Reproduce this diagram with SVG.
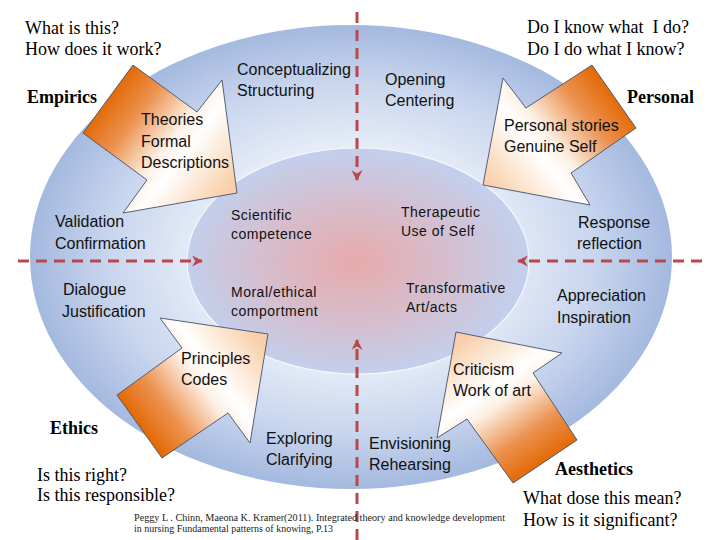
<svg xmlns="http://www.w3.org/2000/svg" width="720" height="540" viewBox="0 0 720 540">
<style>
.s{font-family:"Liberation Sans",Arial,sans-serif;font-size:16px;fill:#111}
.si{font-family:"Liberation Sans",Arial,sans-serif;font-size:14px;letter-spacing:0.5px;fill:#111}
.r{font-family:"Liberation Serif","Times New Roman",serif;font-size:18px;fill:#000;white-space:pre}
.b{font-family:"Liberation Serif","Times New Roman",serif;font-size:18px;font-weight:bold;fill:#000}
.c{font-family:"Liberation Serif","Times New Roman",serif;font-size:10px;fill:#222}
.arrow{stroke:#44506a;stroke-width:0.9}
.dash{fill:none;stroke:#b9474c;stroke-width:3;stroke-dasharray:11 7}
</style>
<defs>
<radialGradient id="gOuter" cx="351" cy="257" r="321" gradientUnits="userSpaceOnUse" gradientTransform="translate(351 257) scale(1 0.7227) translate(-351 -257)">
<stop offset="0.45" stop-color="#e9eef8"/>
<stop offset="0.75" stop-color="#c9d6ee"/>
<stop offset="1" stop-color="#a4b9df"/>
</radialGradient>
<radialGradient id="gInner" cx="354" cy="262" r="171" gradientUnits="userSpaceOnUse" gradientTransform="translate(354 262) scale(1 0.66) translate(-354 -262)">
<stop offset="0" stop-color="#e8aaab"/>
<stop offset="0.5" stop-color="#d7bccb"/>
<stop offset="1" stop-color="#c3cfec"/>
</radialGradient>
<linearGradient id="gA1" gradientUnits="userSpaceOnUse" x1="108" y1="99" x2="228" y2="190">
<stop offset="0" stop-color="#e36a07"/><stop offset="0.22" stop-color="#ec9250"/><stop offset="0.5" stop-color="#fdf1e6"/><stop offset="0.62" stop-color="#ffffff"/><stop offset="1" stop-color="#f9cfa9"/>
</linearGradient>
<linearGradient id="gA2" gradientUnits="userSpaceOnUse" x1="614" y1="96" x2="495" y2="192">
<stop offset="0" stop-color="#e36a07"/><stop offset="0.22" stop-color="#ec9250"/><stop offset="0.5" stop-color="#fdf1e6"/><stop offset="0.62" stop-color="#ffffff"/><stop offset="1" stop-color="#f9cfa9"/>
</linearGradient>
<linearGradient id="gA3" gradientUnits="userSpaceOnUse" x1="140" y1="426" x2="258" y2="338">
<stop offset="0" stop-color="#e36a07"/><stop offset="0.22" stop-color="#ec9250"/><stop offset="0.5" stop-color="#fdf1e6"/><stop offset="0.62" stop-color="#ffffff"/><stop offset="1" stop-color="#f9cfa9"/>
</linearGradient>
<linearGradient id="gA4" gradientUnits="userSpaceOnUse" x1="545" y1="461" x2="462" y2="340">
<stop offset="0" stop-color="#e36a07"/><stop offset="0.22" stop-color="#ec9250"/><stop offset="0.5" stop-color="#fdf1e6"/><stop offset="0.62" stop-color="#ffffff"/><stop offset="1" stop-color="#f9cfa9"/>
</linearGradient>
<marker id="ah" viewBox="0 0 10 10" refX="9" refY="5" markerWidth="11" markerHeight="11" markerUnits="userSpaceOnUse" orient="auto">
<path d="M0,0 L10,5 L0,10 L3,5 z" fill="#b9474c"/>
</marker>
</defs>
<rect width="720" height="540" fill="#ffffff"/>
<g id="rings">
<ellipse cx="351" cy="257" rx="321" ry="232" fill="url(#gOuter)"/>
<ellipse cx="358" cy="261" rx="171" ry="113" fill="url(#gInner)" stroke="#f4f7fc" stroke-width="1.2"/>
</g>
<g id="connectors">
<path class="dash" d="M357,12 L357,180" marker-end="url(#ah)"/>
<path class="dash" d="M357,540 L357,340" marker-end="url(#ah)"/>
<path class="dash" d="M18,261 L202,261" marker-end="url(#ah)"/>
<path class="dash" d="M702,261 L518,261" marker-end="url(#ah)"/>
</g>
<g id="empirics">
<polygon class="arrow" fill="url(#gA1)" points="133,65 197,112 222,80 237,193 123,213 147,180 83,133"/>
<text class="r" x="25" y="34">What is this?</text>
<text class="r" x="25" y="55">How does it work?</text>
<text class="b" x="27" y="103">Empirics</text>
<text class="s" x="141" y="125">Theories</text>
<text class="s" x="141" y="147">Formal</text>
<text class="s" x="141" y="168">Descriptions</text>
<text class="s" x="237" y="75">Conceptualizing</text>
<text class="s" x="237" y="96">Structuring</text>
<text class="s" x="55" y="227">Validation</text>
<text class="s" x="55" y="249">Confirmation</text>
<text class="si" x="231" y="220">Scientific</text>
<text class="si" x="231" y="239">competence</text>
</g>
<g id="personal">
<polygon class="arrow" fill="url(#gA2)" points="592,65 526,108 503,78 483,185 590,205 571,173 636,128"/>
<text class="r" x="527" y="33">Do I know what  I do?</text>
<text class="r" x="527" y="55">Do I do what I know?</text>
<text class="b" x="627" y="103">Personal</text>
<text class="s" x="385" y="85">Opening</text>
<text class="s" x="385" y="106">Centering</text>
<text class="s" x="504" y="131">Personal stories</text>
<text class="s" x="504" y="152">Genuine Self</text>
<text class="s" x="578" y="228">Response</text>
<text class="s" x="577" y="249">reflection</text>
<text class="si" x="401" y="217">Therapeutic</text>
<text class="si" x="401" y="236">Use of Self</text>
</g>
<g id="ethics">
<polygon class="arrow" fill="url(#gA3)" points="117,395 182,348 160,318 268,334 250,443 228,413 162,458"/>
<text class="s" x="63" y="295">Dialogue</text>
<text class="s" x="62" y="317">Justification</text>
<text class="si" x="231" y="297">Moral/ethical</text>
<text class="si" x="231" y="316">comportment</text>
<text class="s" x="181" y="364">Principles</text>
<text class="s" x="181" y="385">Codes</text>
<text class="b" x="50" y="434">Ethics</text>
<text class="s" x="266" y="444">Exploring</text>
<text class="s" x="266" y="465">Clarifying</text>
<text class="r" x="37" y="481">Is this right?</text>
<text class="r" x="37" y="501">Is this responsible?</text>
</g>
<g id="aesthetics">
<polygon class="arrow" fill="url(#gA4)" points="577,440 533,373 562,353 456,332 437,438 467,419 513,483"/>
<text class="si" x="406" y="293">Transformative</text>
<text class="si" x="406" y="312">Art/acts</text>
<text class="s" x="557" y="301">Appreciation</text>
<text class="s" x="557" y="323">Inspiration</text>
<text class="s" x="453" y="375">Criticism</text>
<text class="s" x="453" y="396">Work of art</text>
<text class="s" x="369" y="449">Envisioning</text>
<text class="s" x="369" y="470">Rehearsing</text>
<text class="b" x="555" y="475">Aesthetics</text>
<text class="r" x="523" y="504">What dose this mean?</text>
<text class="r" x="523" y="526">How is it significant?</text>
</g>
<g id="citation">
<text class="c" x="134" y="521" textLength="371" lengthAdjust="spacingAndGlyphs">Peggy L . Chinn, Maeona K. Kramer(2011). Integrated theory and knowledge development</text>
<text class="c" x="134" y="532" textLength="199" lengthAdjust="spacingAndGlyphs">in nursing Fundamental patterns of knowing, P.13</text>
</g>
</svg>
